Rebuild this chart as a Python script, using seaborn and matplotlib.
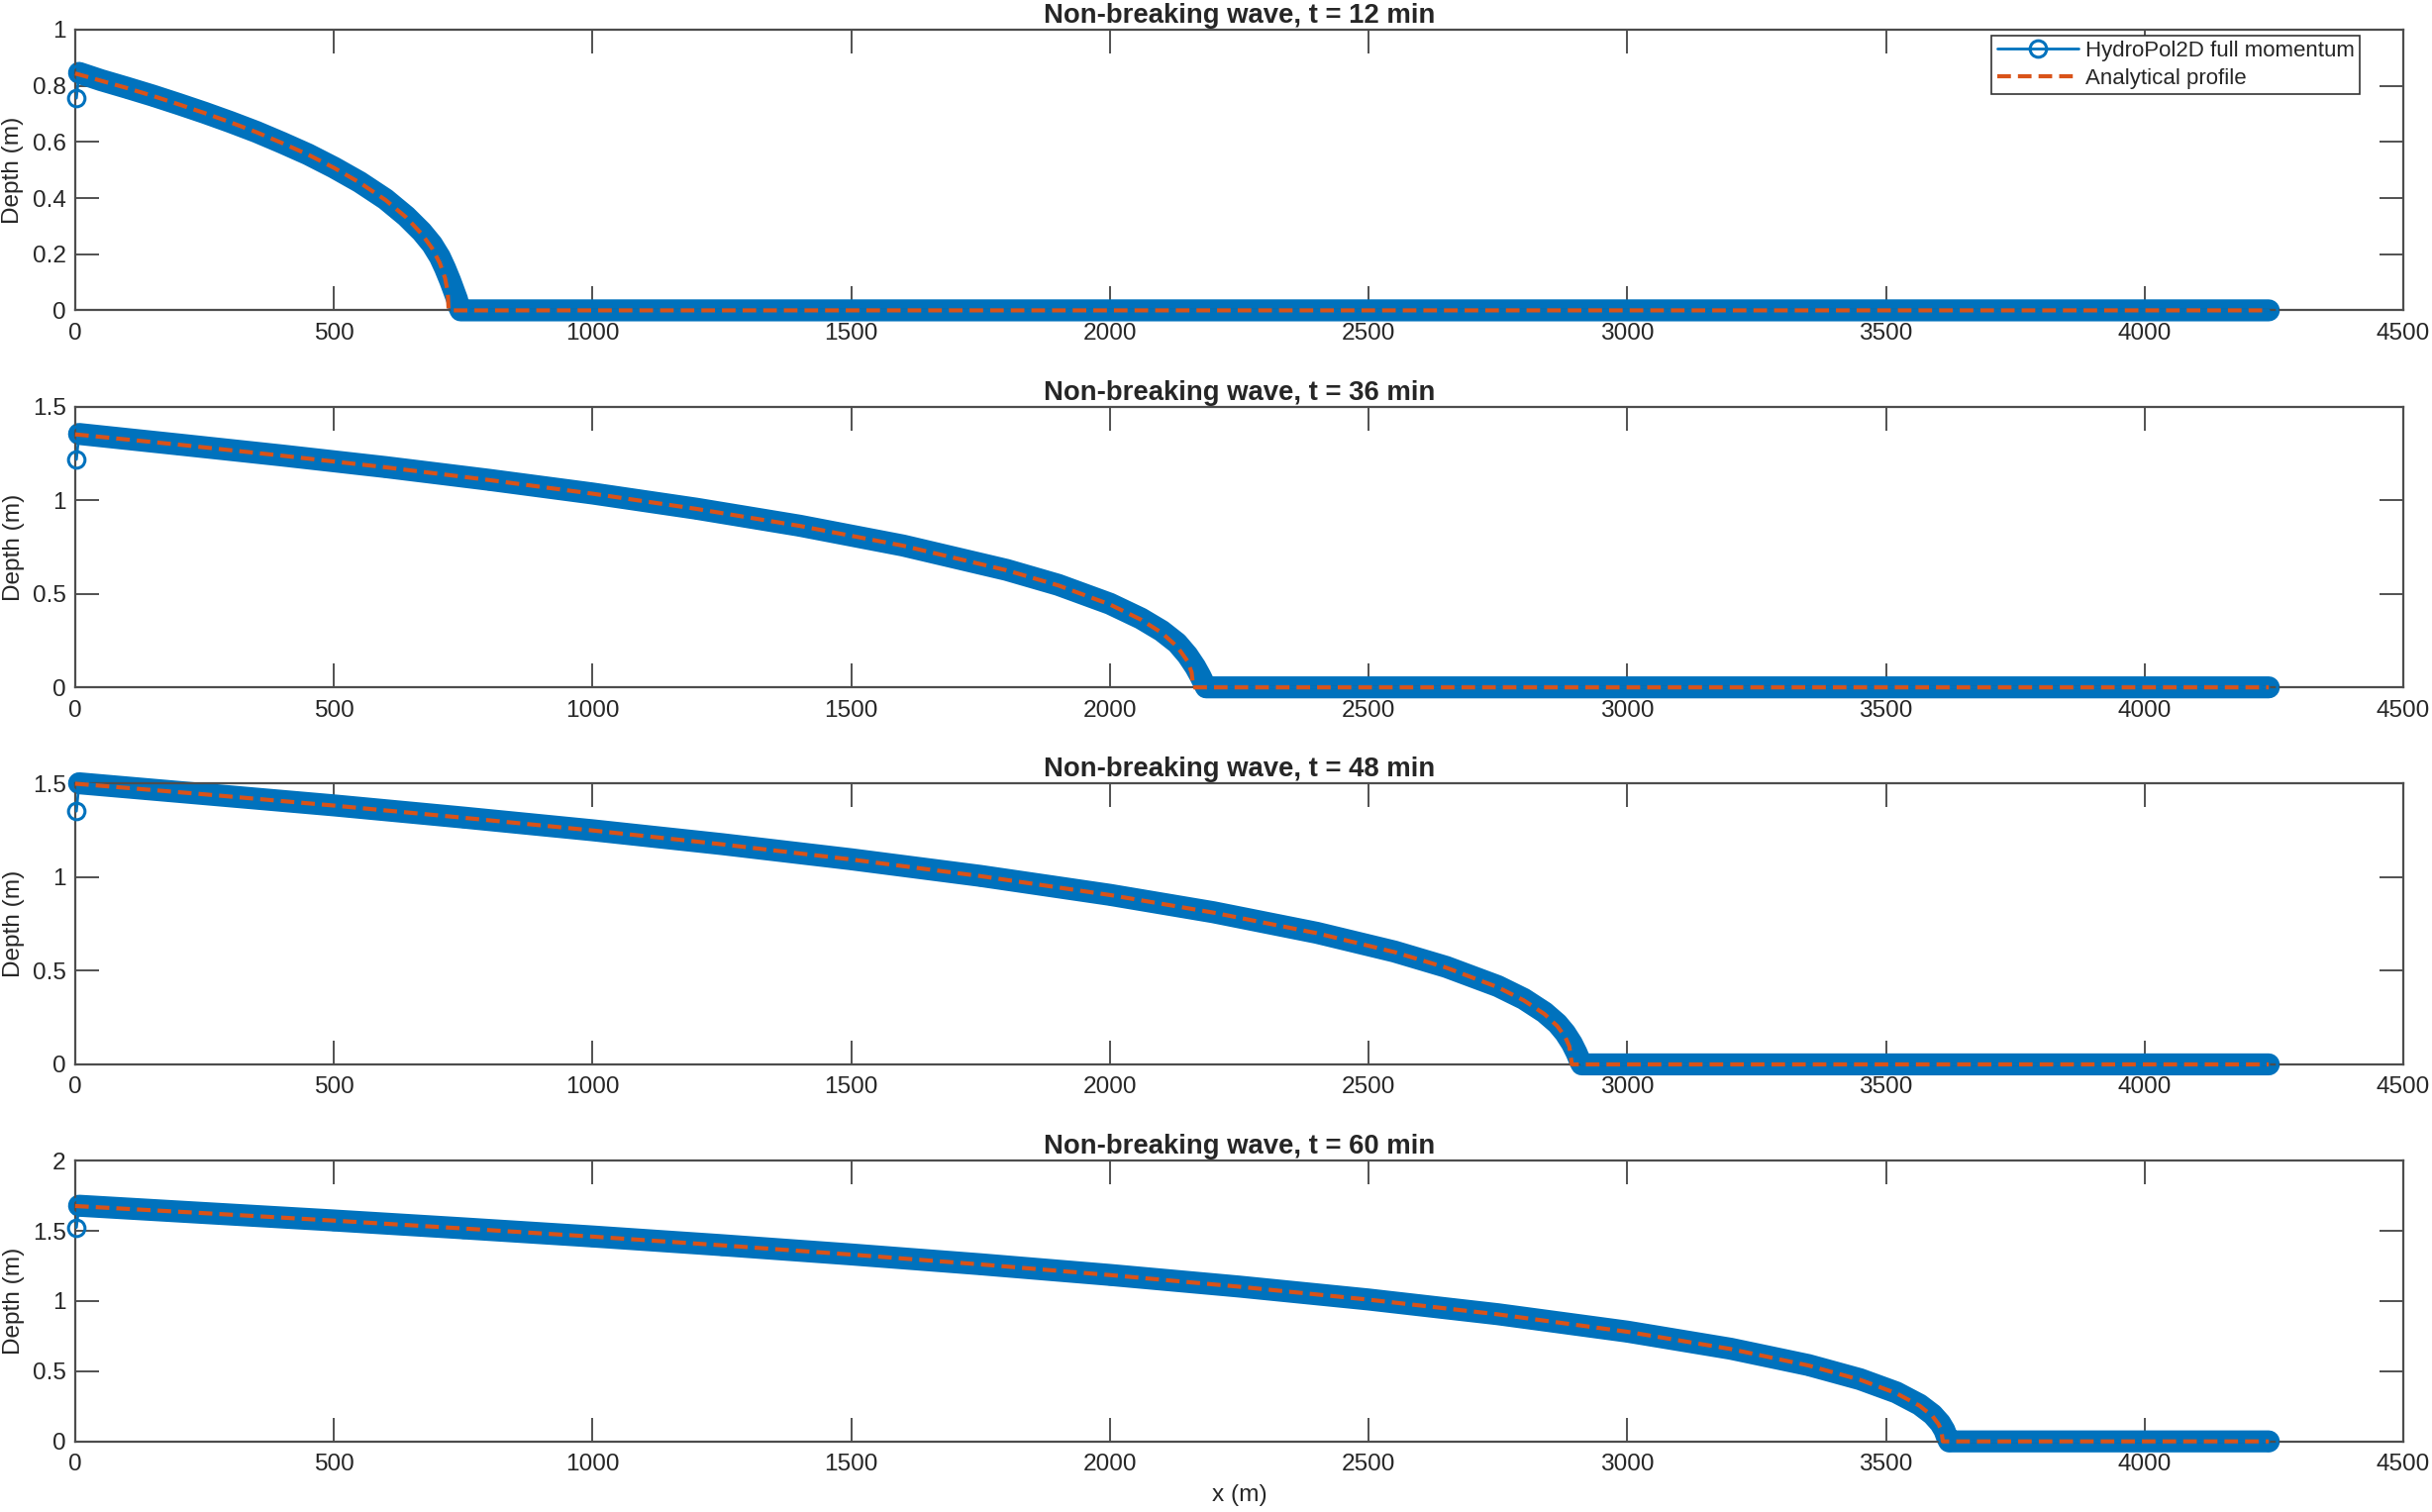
import matplotlib
matplotlib.use("Agg")
import matplotlib.pyplot as plt
from matplotlib.lines import Line2D
from matplotlib.ticker import FormatStrFormatter, MultipleLocator
import seaborn as sns

sns.set_theme(style="white")
plt.rcParams['font.family'] = ['Liberation Sans', 'DejaVu Sans']

BLUE = '#0072BD'
ORANGE = '#D95319'
INK = '#262626'

# snapshot times (min) and y axis settings
times = [12, 36, 48, 60]
y_tops = [1.0, 1.5, 1.5, 2.0]
y_steps = [0.2, 0.5, 0.5, 0.5]

# analytical profiles
x_ana_12 = [0, 50, 100, 150, 200, 250, 300, 350, 400, 450, 500, 550, 600, 640, 670, 690, 705, 715, 720, 722, 4240]
h_ana_12 = [0.844, 0.818, 0.792, 0.764, 0.734, 0.703, 0.670, 0.635, 0.596, 0.555, 0.508, 0.455, 0.393, 0.331,
            0.272, 0.221, 0.168, 0.115, 0.067, 0.0, 0.0]
x_ana_36 = [0, 200, 400, 600, 800, 1000, 1200, 1400, 1600, 1800, 1900, 2000, 2060, 2100, 2130, 2150, 2158, 2161, 4240]
h_ana_36 = [1.352, 1.297, 1.238, 1.176, 1.108, 1.035, 0.954, 0.863, 0.757, 0.626, 0.545, 0.443, 0.362, 0.292,
            0.218, 0.140, 0.080, 0.0, 0.0]
x_ana_48 = [0, 250, 500, 750, 1000, 1250, 1500, 1750, 2000, 2200, 2400, 2550, 2650, 2750, 2800, 2840, 2865, 2880,
            2888, 2893, 4240]
h_ana_48 = [1.500, 1.443, 1.383, 1.318, 1.250, 1.176, 1.095, 1.006, 0.905, 0.811, 0.701, 0.600, 0.517, 0.412,
            0.342, 0.269, 0.204, 0.147, 0.097, 0.0, 0.0]
x_ana_60 = [0, 250, 500, 750, 1000, 1250, 1500, 1750, 2000, 2250, 2500, 2750, 3000, 3200, 3350, 3450, 3520, 3565,
            3590, 3602, 3607, 3610, 4240]
h_ana_60 = [1.677, 1.626, 1.573, 1.517, 1.459, 1.397, 1.331, 1.261, 1.185, 1.102, 1.010, 0.905, 0.781, 0.658,
            0.541, 0.439, 0.343, 0.254, 0.180, 0.121, 0.079, 0.0, 0.0]

# HydroPol2D full momentum results
x_mod_12 = [2.5, 7.5, 50, 100, 150, 200, 250, 300, 350, 400, 450, 500, 550, 600, 640, 670, 690, 705, 715, 725, 732,
            738, 742, 745, 4240]
h_mod_12 = [0.756, 0.846, 0.820, 0.793, 0.765, 0.735, 0.704, 0.671, 0.636, 0.597, 0.556, 0.509, 0.457, 0.396,
            0.335, 0.280, 0.235, 0.190, 0.150, 0.105, 0.070, 0.040, 0.012, 0.0, 0.0]
x_mod_36 = [2.5, 7.5, 200, 400, 600, 800, 1000, 1200, 1400, 1600, 1800, 1900, 2000, 2060, 2100, 2130, 2150, 2165,
            2175, 2182, 2186, 4240]
h_mod_36 = [1.218, 1.354, 1.298, 1.239, 1.177, 1.109, 1.036, 0.955, 0.864, 0.758, 0.628, 0.548, 0.447, 0.368,
            0.302, 0.237, 0.172, 0.110, 0.060, 0.020, 0.0, 0.0]
x_mod_48 = [2.5, 7.5, 250, 500, 750, 1000, 1250, 1500, 1750, 2000, 2200, 2400, 2550, 2650, 2750, 2800, 2840, 2865,
            2880, 2893, 2902, 2908, 2912, 4240]
h_mod_48 = [1.353, 1.502, 1.444, 1.384, 1.319, 1.251, 1.177, 1.096, 1.007, 0.906, 0.813, 0.703, 0.603, 0.521,
            0.418, 0.350, 0.278, 0.218, 0.168, 0.112, 0.062, 0.022, 0.0, 0.0]
x_mod_60 = [2.5, 7.5, 250, 500, 750, 1000, 1250, 1500, 1750, 2000, 2250, 2500, 2750, 3000, 3200, 3350, 3450, 3520,
            3565, 3590, 3605, 3613, 3618, 3622, 4240]
h_mod_60 = [1.524, 1.679, 1.627, 1.574, 1.518, 1.460, 1.398, 1.332, 1.262, 1.186, 1.103, 1.011, 0.906, 0.782,
            0.660, 0.544, 0.443, 0.349, 0.262, 0.192, 0.130, 0.080, 0.030, 0.0, 0.0]

ana = [(x_ana_12, h_ana_12), (x_ana_36, h_ana_36), (x_ana_48, h_ana_48), (x_ana_60, h_ana_60)]
mod = [(x_mod_12, h_mod_12), (x_mod_36, h_mod_36), (x_mod_48, h_mod_48), (x_mod_60, h_mod_60)]

fig, axes = plt.subplots(4, 1, figsize=(12.28, 7.635))
fig.subplots_adjust(left=0.0309, right=0.9882, bottom=0.0467, top=0.9804, hspace=0.343)

for i, ax in enumerate(axes):
    xm, hm = mod[i]
    xa, ha = ana[i]

    # dense overlapping markers of the model show up as a thick band
    sns.lineplot(x=xm[1:], y=hm[1:], ax=ax, color=BLUE, linewidth=8.0, estimator=None, sort=False,
                 legend=False, solid_capstyle='round', solid_joinstyle='round', clip_on=False, zorder=2)
    sns.lineplot(x=xm, y=hm, ax=ax, color=BLUE, linewidth=1.0, marker='o', markersize=6.0,
                 markerfacecolor='none', markeredgecolor=BLUE, markeredgewidth=1.1,
                 estimator=None, sort=False, legend=False, clip_on=False, zorder=3)
    sns.lineplot(x=xa, y=ha, ax=ax, color=ORANGE, linewidth=1.5, estimator=None, sort=False,
                 legend=False, clip_on=False, zorder=4)
    ax.lines[-1].set_dashes((3.3, 1.7))

    ax.set_xlim(0, 4500)
    ax.set_ylim(0, y_tops[i])
    ax.xaxis.set_major_locator(MultipleLocator(500))
    ax.yaxis.set_major_locator(MultipleLocator(y_steps[i]))
    ax.yaxis.set_major_formatter(FormatStrFormatter('%g'))
    ax.tick_params(direction='in', length=8.5, width=0.6, color='#333333', labelcolor=INK, labelsize=8.8,
                   top=True, right=True, bottom=True, left=True)
    ax.tick_params(axis='x', pad=4.5)
    ax.tick_params(axis='y', pad=3.3)
    for sp in ax.spines.values():
        sp.set_visible(True)
        sp.set_color('#4d4d4d')
        sp.set_linewidth(0.8)
    ax.set_ylabel('Depth (m)', fontsize=8.8, color=INK, labelpad=3.0)
    ax.set_xlabel('')
    ax.set_title(f'Non-breaking wave, t = {times[i]} min', fontsize=9.9, fontweight='bold', color=INK, pad=2.5)

axes[-1].set_xlabel('x (m)', fontsize=8.8, color=INK, labelpad=3)

handles = [
    Line2D([], [], color=BLUE, linewidth=1.0, marker='o', markersize=6.0, markerfacecolor='none',
           markeredgewidth=1.1),
    Line2D([], [], color=ORANGE, linewidth=1.5, dashes=(3.3, 1.7)),
]
leg = axes[0].legend(handles, ['HydroPol2D full momentum', 'Analytical profile'], loc='upper right',
                     bbox_to_anchor=(0.9813, 0.980), borderaxespad=0, fontsize=8.0, handlelength=3.7,
                     handletextpad=0.3, labelspacing=0.3, borderpad=0.25, frameon=True, fancybox=False,
                     edgecolor='#333333', framealpha=1)
leg.get_frame().set_linewidth(0.6)
for txt in leg.get_texts():
    txt.set_color(INK)

fig.savefig('out.png', dpi=200)
